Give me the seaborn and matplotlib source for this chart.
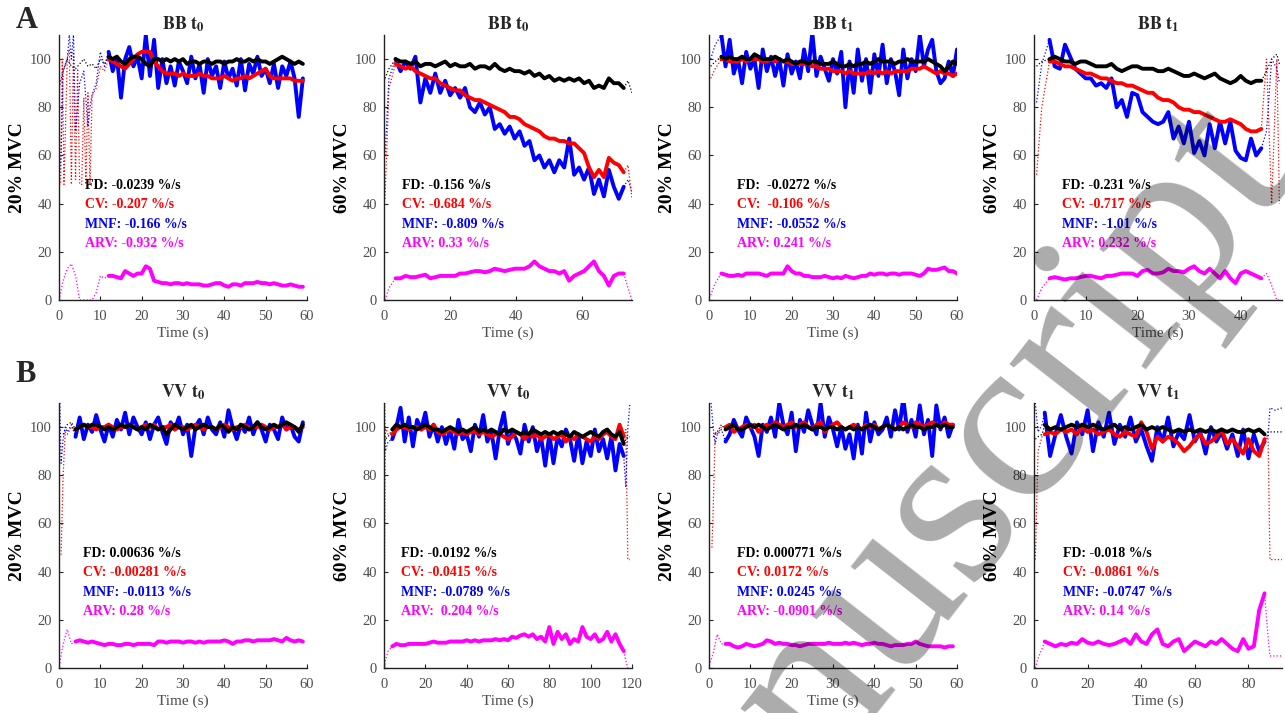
import numpy as np
import matplotlib
matplotlib.use("Agg")
import matplotlib.pyplot as plt
import seaborn as sns

# ---------------- data ----------------
# Panel 1: BB t0, 20% MVC
p1_t = np.arange(12, 60, 1.0)
p1_fd = [101,100,101,99,98,100,101,101,100,98,97,100,100,99,100,99,100,99,100,98,99,99,98,99,99,98,99,99,98,99,99,100,99,99,100,99,100,99,99,98,99,100,101,100,99,98,99,98]
p1_cv = [100,99,98,97,96,98,100,102,103,103,103,99,97,95,94,94,94,93,94,93,93,93,94,93,93,92,92,92,93,92,91,92,92,93,92,93,94,95,96,93,92,92,92,92,92,91,91,91]
p1_mnf = [103,95,101,84,100,105,97,101,92,110,93,108,88,100,90,97,89,99,95,90,101,92,98,86,100,93,97,88,99,92,96,89,100,87,98,94,101,93,96,90,98,88,97,93,99,92,76,92]
p1_arv = [10,10,9.5,9,12,11,10,11,11,14,13,8,7.5,7,7,6.5,7,7,6.5,7,6.5,6.5,6.5,6,6,6.5,7,7,6,5.5,6.5,6.5,6,7,7,7,7.5,7,7,6.5,7,6.5,6,6,6.5,6,5.5,5.5]
p1_dot_cv_t = [0,0.4,0.8,1.2,2,2.5,3,3.5,4,4.5,5,5.5,6,6.5,7,7.5,8,9,10,11,12]
p1_dot_cv = [48,48,100,48,100,104,48,103,50,96,48,48,84,48,86,48,85,88,97,95,100]
p1_dot_mnf_t = [0,0.5,1,2,2.5,3,3.5,4,5,6,7,7.5,8,9,10,11,12]
p1_dot_mnf = [50,60,95,100,110,100,110,70,90,95,72,80,85,90,103,97,103]
p1_dot_fd_t = [0,1,2,3,4,5,6,7,8,9,10,11,12]
p1_dot_fd = [88,95,100,97,96,98,100,97,98,96,100,98,101]
p1_dot_arv_t = [0,1,2,3,4,5,6,7,8,9,10,11,12]
p1_dot_arv = [0,8,13,15,10,0,0,0,0,3,10,9,10]

# Panel 2: BB t0, 60% MVC
p2_t = np.arange(3.5, 73, 1.5)
p2_fd = [100,99,99,98,99,97,98,98,97,98,99,97,98,97,97,98,96,97,97,96,98,96,95,96,95,95,94,95,93,94,92,93,91,92,91,92,91,92,90,91,88,89,88,92,90,90,88]
p2_cv = [98,97,96,97,95,94,93,92,92,90,89,88,87,87,85,84,83,83,82,81,80,79,78,76,76,75,73,72,71,70,68,67,67,66,66,65,65,63,61,55,51,54,51,59,57,56,53]
p2_mnf = [100,95,99,96,101,82,92,86,94,86,91,85,88,84,88,80,78,82,77,80,71,73,69,72,67,70,64,66,58,60,55,58,53,58,55,67,52,55,50,55,44,50,43,54,47,42,47]
p2_arv = [9,9,10,9.5,9.5,10,10.5,9,9.5,10,10,10,10,11,11,11.5,12,12,11.5,12,13,12.5,12,12.5,13,13,13,14,16,14,13,12,12,11,12,8,10,11,12,14,16,12,10,6,10,11,11]
p2_dot_start_t = [0.3, 1.5, 3.5]
p2_dot_start_fd = [92, 96, 100]
p2_dot_start_cv = [42, 88, 98]
p2_dot_start_mnf = [60, 92, 100]
p2_dot_start_arv = [0, 5, 9]
p2_dot_end_t = [72.5, 73.8, 75]
p2_dot_end_fd = [88, 91, 86]
p2_dot_end_cv = [53, 56, 42]
p2_dot_end_mnf = [47, 50, 45]
p2_dot_end_arv = [11, 5, 0]

# Panel 3: BB t1, 20% MVC
p3_t = np.arange(3, 61, 1.0)
p3_fd = [101,100,101,100,100,101,100,100,102,101,100,100,100,101,100,99,100,99,98,99,99,98,99,99,98,98,98,99,98,97,97,98,97,98,98,99,98,99,100,99,99,99,98,99,99,100,99,99,99,99,100,99,98,97,95,97,99,98]
p3_cv = [100,100,99,99,99,100,99,100,100,100,99,99,100,99,100,99,99,98,98,98,98,98,97,97,96,96,96,95,95,95,94,95,94,94,94,94,95,94,95,94,95,94,95,95,95,95,96,96,96,97,96,95,94,95,94,94,93,94]
p3_mnf = [110,97,108,94,100,90,103,96,100,88,104,95,101,93,100,89,102,94,99,92,104,95,111,93,101,96,91,100,94,103,80,99,86,104,91,100,86,102,93,106,90,100,95,85,104,92,100,95,110,97,104,108,95,90,92,99,93,104]
p3_arv = [11,10.5,10,10,10.5,10,11,11,11,11,10.5,10,11,11,11,11,14,12,11,11,10,10,9.5,9.5,9.5,10,9.5,9,9.5,9,10,9.5,9,9.5,10,10,11,10.5,11,11,10.5,11,11,10.5,11,11,11,10.5,10,11,13,12.5,12.5,13,13.5,12,12,11]
p3_dot_t = [0.4, 1.5, 3]
p3_dot_fd = [97, 99, 101]
p3_dot_cv = [92, 96, 100]
p3_dot_mnf = [100, 106, 110]
p3_dot_arv = [2, 7, 11]

# Panel 4: BB t1, 60% MVC
p4_t = np.arange(3, 45, 1.0)
p4_fd = [100,101,100,99,99,98,99,99,98,97,97,97,98,96,95,96,97,97,96,96,96,95,95,96,95,94,93,93,94,93,92,93,94,92,91,90,91,93,91,90,91,91]
p4_cv = [99,99,98,97,97,96,95,94,94,93,92,92,91,90,90,89,89,88,87,86,86,84,83,83,82,80,79,79,78,78,77,76,75,74,74,75,74,73,71,70,70,71]
p4_mnf = [108,97,96,106,101,96,94,92,92,89,90,88,92,80,83,76,86,85,78,76,74,73,74,78,67,72,65,74,61,66,60,73,63,74,65,74,62,59,58,67,60,63]
p4_arv = [9,9.5,9,8.5,9,9,9.5,10,10,9.5,9,10,10,10.5,11,11,11,10,12,12.5,11,11,11.5,13,12,12,11.5,13,14,12,11,13,11,9,12,9,7,11,12,11,10,9]
p4_dot_start_t = [0.5, 1.5, 3]
p4_dot_start_fd = [97, 99, 100]
p4_dot_start_cv = [52, 80, 99]
p4_dot_start_mnf = [82, 98, 108]
p4_dot_start_arv = [0, 5, 9]
p4_dot_end_t = [44, 45, 46, 47, 47.5]
p4_dot_end_fd = [91, 95, 100, 102, 98]
p4_dot_end_cv = [71, 100, 40, 100, 40]
p4_dot_end_mnf = [63, 70, 100, 96, 90]
p4_dot_end_arv = [9, 11, 6, 0, 0]

# Panel 5: VV t0, 20% MVC
p5_t = np.arange(4, 60, 1.0)
p5_fd = [99,100,101,100,101,101,100,99,100,99,100,101,100,101,100,99,100,99,101,100,99,100,97,99,101,100,99,100,101,99,100,101,100,100,99,101,100,98,100,99,101,100,99,100,102,100,99,100,101,100,101,102,101,100,98,101]
p5_cv = [99,100,101,100,100,99,100,100,101,100,99,100,100,101,100,99,100,101,100,101,99,100,100,101,99,100,100,99,100,101,100,99,100,100,99,100,101,100,99,100,100,101,99,100,100,101,100,99,100,100,101,99,100,100,99,100]
p5_mnf = [96,104,95,101,98,105,99,94,101,96,103,99,106,97,104,100,97,102,95,101,104,98,93,102,99,104,97,101,88,100,103,97,104,99,97,102,96,107,100,95,101,98,104,97,102,99,94,101,99,95,104,99,101,96,94,102]
p5_arv = [11,11.5,11,10.5,11,10.5,10,9.5,10,10,9.5,9.5,10,10,9.5,10,10,10,10,9.5,11,11,10.5,11,11,11,10.5,11,11,10.5,11,10.5,11,11,11,11,11.5,11,10,11,11,11.5,11.5,11,11.5,11.5,11.5,11.5,12,11.5,11,12.5,11.5,11,11.5,11]
p5_dot_cv_t = [0.5, 1, 1.5, 2, 3, 4]
p5_dot_cv = [47, 80, 98, 97, 100, 99]
p5_dot_mnf_t = [0.2, 0.5, 1, 1.5, 2, 3, 4]
p5_dot_mnf = [110, 85, 95, 100, 98, 101, 96]
p5_dot_fd_t = [1, 2, 3, 4]
p5_dot_fd = [97, 101, 102, 99]
p5_dot_arv_t = [0.2, 1, 2, 3, 4]
p5_dot_arv = [2, 10, 16, 10, 11]

# Panel 6: VV t0, 60% MVC
p6_t = np.arange(4, 117, 2.0)
p6_fd = [99,101,100,101,100,100,99,100,101,100,99,99,98,99,100,99,98,99,98,99,100,98,99,98,99,98,97,99,98,99,98,97,98,97,99,98,97,98,97,98,97,98,97,96,98,97,96,97,98,97,96,98,99,97,96,98,93]
p6_cv = [97,99,100,100,99,100,100,99,100,99,101,98,97,98,99,98,97,98,97,98,98,97,98,97,96,97,97,96,95,96,98,97,95,97,96,97,95,96,97,95,96,97,94,96,95,97,96,95,94,96,95,97,98,96,95,101,96]
p6_mnf = [95,100,108,94,104,92,103,99,106,96,101,94,100,93,99,91,103,95,97,90,101,96,105,94,98,87,99,106,93,98,95,89,101,94,100,90,96,84,97,85,96,92,99,95,86,97,85,94,88,99,90,95,87,96,82,93,88]
p6_arv = [9,10,9.5,9.5,10,10,10,10,10,10.5,11,10.5,10.5,10.5,11,11,11,11,11.5,11,11.5,11,11.5,11.5,11.5,12,11.5,12,11.5,13,12.5,13.5,14,13,14,12,13,11,17,10,15,12,14,10,12,11,17,13,12,14,11,12,15,11,14,10,7]
p6_dot_start_t = [0.3, 0.6, 2, 4]
p6_dot_start_fd = [94, 95, 96, 99]
p6_dot_start_cv = [45, 100, 97, 97]
p6_dot_start_mnf = [110, 90, 94, 95]
p6_dot_start_arv = [0, 3, 7, 9]
p6_dot_end_t = [116, 117, 118, 119]
p6_dot_end_fd = [93, 95, 96, 96]
p6_dot_end_cv = [96, 99, 45, 45]
p6_dot_end_mnf = [88, 75, 100, 110]
p6_dot_end_arv = [7, 3, 0, 0]

# Panel 7: VV t1, 20% MVC
p7_t = np.arange(4, 60, 1.0)
p7_fd = [99,100,101,99,99,100,101,100,101,100,99,100,101,100,99,100,100,101,100,101,100,99,100,100,99,100,100,99,100,99,100,99,100,99,100,101,100,99,100,101,100,99,100,99,100,101,100,100,99,100,100,101,100,101,100,100]
p7_cv = [100,101,98,99,100,101,100,101,98,100,101,100,102,101,100,101,102,100,101,102,100,99,101,102,98,100,101,102,100,99,100,101,100,99,101,100,101,99,100,101,100,99,100,102,101,100,102,101,100,101,102,101,100,102,101,101]
p7_mnf = [94,97,103,99,96,104,100,96,88,101,98,104,96,110,101,97,106,90,103,98,107,101,97,110,96,104,99,92,100,91,97,87,101,89,106,94,102,97,99,104,96,107,99,112,98,103,96,109,97,103,88,109,99,104,96,101]
p7_arv = [10,10,9,8.5,9,10,9.5,9,9.5,10,11.5,11,10,10.5,10,10,9.5,9.5,9,9.5,10,10,10,10,10,10.5,10,10,10,10.5,10,10.5,10,9.5,10,10,10.5,10,10,9.5,9,9.5,9.5,9.5,10,10,11,10,9.5,9,9,9,9,8.5,9,9]
p7_dot_cv_t = [0.7, 1, 1.5, 2, 3, 4]
p7_dot_cv = [50, 65, 98, 97, 100, 100]
p7_dot_mnf_t = [0.5, 1, 1.5, 2, 3, 4]
p7_dot_mnf = [110, 100, 93, 97, 99, 94]
p7_dot_fd_t = [1, 2, 3, 4]
p7_dot_fd = [96, 98, 101, 99]
p7_dot_arv_t = [0, 1, 2, 3, 4]
p7_dot_arv = [1, 6, 14, 10, 10]

# Panel 8: VV t1, 60% MVC
p8_t = np.arange(4, 87, 2.0)
p8_fd = [101,99,100,99,100,101,100,101,100,101,100,99,100,101,99,100,99,100,101,99,100,99,100,99,98,99,98,99,98,99,98,99,98,99,98,99,98,98,99,98,99,97]
p8_cv = [97,98,97,99,98,99,97,100,98,99,97,98,99,97,96,98,97,96,102,98,91,96,94,96,95,93,90,92,95,97,93,94,96,99,93,95,92,89,95,90,88,95]
p8_mnf = [106,88,97,105,96,89,102,97,107,90,102,96,106,93,101,96,104,94,99,92,86,100,94,104,92,98,95,105,94,98,89,100,94,98,91,97,88,99,87,97,90,94]
p8_arv = [11,10,9,10,9.5,10.5,10,12,10.5,10,11,10,9.5,10,11,12,10,14,11,10,14,16,10,9,11,12,7,9,11,10,9,11,10,12,10,8,7,12,8,9,24,31]
p8_dot_start_t = [0.5, 1.5, 3, 4]
p8_dot_start_fd = [95, 96, 97, 101]
p8_dot_start_cv = [45, 90, 96, 97]
p8_dot_start_mnf = [110, 98, 101, 106]
p8_dot_start_arv = [0, 4, 8, 11]
p8_dot_end_t = [86, 87.3, 88, 90, 92.5]
p8_dot_end_fd = [97, 98, 98, 98, 98]
p8_dot_end_cv = [95, 97, 45, 45, 45]
p8_dot_end_mnf = [94, 96, 108, 107, 108]
p8_dot_end_arv = [31, 13, 5, 5, 5]

titles = ["BB", "BB", "BB", "BB", "VV", "VV", "VV", "VV"]
time_labels = ["0", "0", "1", "1", "0", "0", "1", "1"]
ylabels = ["20% MVC", "60% MVC", "20% MVC", "60% MVC", "20% MVC", "60% MVC", "20% MVC", "60% MVC"]
xmaxes = [60, 75, 60, 48, 60, 120, 60, 92.5]
xtick_steps = [10, 20, 10, 10, 10, 20, 10, 20]
rate_fd = ["FD: -0.0239 %/s", "FD: -0.156 %/s", "FD:  -0.0272 %/s", "FD: -0.231 %/s",
           "FD: 0.00636 %/s", "FD: -0.0192 %/s", "FD: 0.000771 %/s", "FD: -0.018 %/s"]
rate_cv = ["CV: -0.207 %/s", "CV: -0.684 %/s", "CV:  -0.106 %/s", "CV: -0.717 %/s",
           "CV: -0.00281 %/s", "CV: -0.0415 %/s", "CV: 0.0172 %/s", "CV: -0.0861 %/s"]
rate_mnf = ["MNF: -0.166 %/s", "MNF: -0.809 %/s", "MNF: -0.0552 %/s", "MNF: -1.01 %/s",
            "MNF: -0.0113 %/s", "MNF: -0.0789 %/s", "MNF: 0.0245 %/s", "MNF: -0.0747 %/s"]
rate_arv = ["ARV: -0.932 %/s", "ARV: 0.33 %/s", "ARV: 0.241 %/s", "ARV: 0.232 %/s",
            "ARV: 0.28 %/s", "ARV:  0.204 %/s", "ARV: -0.0901 %/s", "ARV: 0.14 %/s"]
text_x = [6.3, 5.5, 6.8, 5.4, 5.8, 8.2, 6.8, 10.9]

# ---------------- style ----------------
sns.set_theme(style="ticks")
plt.rcParams["font.family"] = ["Liberation Serif", "DejaVu Serif"]
plt.rcParams["mathtext.fontset"] = "stix"

C_FD, C_CV, C_MNF, C_ARV = "#000000", "#ff0000", "#0000ff", "#ff00ff"
TICK_C = "#4d4d4d"

fig = plt.figure(figsize=(12.85, 7.13), dpi=100)
W, H = 1285, 713
col_left = [59, 384, 709, 1034]
row_top = [35, 403]
aw, ah = 248, 265

main = [
    (p1_t, p1_fd, p1_cv, p1_mnf, p1_arv),
    (p2_t, p2_fd, p2_cv, p2_mnf, p2_arv),
    (p3_t, p3_fd, p3_cv, p3_mnf, p3_arv),
    (p4_t, p4_fd, p4_cv, p4_mnf, p4_arv),
    (p5_t, p5_fd, p5_cv, p5_mnf, p5_arv),
    (p6_t, p6_fd, p6_cv, p6_mnf, p6_arv),
    (p7_t, p7_fd, p7_cv, p7_mnf, p7_arv),
    (p8_t, p8_fd, p8_cv, p8_mnf, p8_arv),
]

dotted = [
    [(p1_dot_fd_t, p1_dot_fd, C_FD), (p1_dot_cv_t, p1_dot_cv, C_CV), (p1_dot_mnf_t, p1_dot_mnf, C_MNF), (p1_dot_arv_t, p1_dot_arv, C_ARV)],
    [(p2_dot_start_t, p2_dot_start_fd, C_FD), (p2_dot_start_t, p2_dot_start_cv, C_CV), (p2_dot_start_t, p2_dot_start_mnf, C_MNF), (p2_dot_start_t, p2_dot_start_arv, C_ARV),
     (p2_dot_end_t, p2_dot_end_fd, C_FD), (p2_dot_end_t, p2_dot_end_cv, C_CV), (p2_dot_end_t, p2_dot_end_mnf, C_MNF), (p2_dot_end_t, p2_dot_end_arv, C_ARV)],
    [(p3_dot_t, p3_dot_fd, C_FD), (p3_dot_t, p3_dot_cv, C_CV), (p3_dot_t, p3_dot_mnf, C_MNF), (p3_dot_t, p3_dot_arv, C_ARV)],
    [(p4_dot_start_t, p4_dot_start_fd, C_FD), (p4_dot_start_t, p4_dot_start_cv, C_CV), (p4_dot_start_t, p4_dot_start_mnf, C_MNF), (p4_dot_start_t, p4_dot_start_arv, C_ARV),
     (p4_dot_end_t, p4_dot_end_fd, C_FD), (p4_dot_end_t, p4_dot_end_cv, C_CV), (p4_dot_end_t, p4_dot_end_mnf, C_MNF), (p4_dot_end_t, p4_dot_end_arv, C_ARV)],
    [(p5_dot_fd_t, p5_dot_fd, C_FD), (p5_dot_cv_t, p5_dot_cv, C_CV), (p5_dot_mnf_t, p5_dot_mnf, C_MNF), (p5_dot_arv_t, p5_dot_arv, C_ARV)],
    [(p6_dot_start_t, p6_dot_start_fd, C_FD), (p6_dot_start_t, p6_dot_start_cv, C_CV), (p6_dot_start_t, p6_dot_start_mnf, C_MNF), (p6_dot_start_t, p6_dot_start_arv, C_ARV),
     (p6_dot_end_t, p6_dot_end_fd, C_FD), (p6_dot_end_t, p6_dot_end_cv, C_CV), (p6_dot_end_t, p6_dot_end_mnf, C_MNF), (p6_dot_end_t, p6_dot_end_arv, C_ARV)],
    [(p7_dot_fd_t, p7_dot_fd, C_FD), (p7_dot_cv_t, p7_dot_cv, C_CV), (p7_dot_mnf_t, p7_dot_mnf, C_MNF), (p7_dot_arv_t, p7_dot_arv, C_ARV)],
    [(p8_dot_start_t, p8_dot_start_fd, C_FD), (p8_dot_start_t, p8_dot_start_cv, C_CV), (p8_dot_start_t, p8_dot_start_mnf, C_MNF), (p8_dot_start_t, p8_dot_start_arv, C_ARV),
     (p8_dot_end_t, p8_dot_end_fd, C_FD), (p8_dot_end_t, p8_dot_end_cv, C_CV), (p8_dot_end_t, p8_dot_end_mnf, C_MNF), (p8_dot_end_t, p8_dot_end_arv, C_ARV)],
]

LW = 2.8
for i in range(8):
    r, c = divmod(i, 4)
    left = col_left[c] / W
    bottom = (H - row_top[r] - ah) / H
    ax = fig.add_axes([left, bottom, aw / W, ah / H])
    t, fd, cv, mnf, arv = main[i]
    for (dt, dv, dc) in dotted[i]:
        sns.lineplot(x=dt, y=dv, ax=ax, color=dc, linewidth=0.9, linestyle=":",
                     estimator=None, sort=False)
    sns.lineplot(x=t, y=mnf, ax=ax, color=C_MNF, linewidth=LW, estimator=None, sort=False)
    sns.lineplot(x=t, y=cv, ax=ax, color=C_CV, linewidth=LW, estimator=None, sort=False)
    sns.lineplot(x=t, y=fd, ax=ax, color=C_FD, linewidth=LW, estimator=None, sort=False)
    sns.lineplot(x=t, y=arv, ax=ax, color=C_ARV, linewidth=LW, estimator=None, sort=False)

    ax.set_xlim(0, xmaxes[i])
    ax.set_ylim(0, 110)
    ax.set_yticks(np.arange(0, 101, 20))
    ax.set_xticks(np.arange(0, xmaxes[i] + 0.01, xtick_steps[i]))
    sns.despine(ax=ax)
    ax.tick_params(direction="in", length=3, width=0.8, labelsize=10.5, labelcolor=TICK_C,
                   color="#222222")
    ax.tick_params(axis="x", pad=7)
    ax.tick_params(axis="y", pad=5)
    for s in ("left", "bottom"):
        ax.spines[s].set_color("#222222")
        ax.spines[s].set_linewidth(1.0)
    ax.set_xlabel("Time (s)", fontsize=11, color=TICK_C, labelpad=3)
    ax.set_ylabel(ylabels[i], fontsize=14, fontweight="bold", color="black", labelpad=3)
    ax.set_title(r"$\mathbf{%s\ t_%s}$" % (titles[i], time_labels[i]), fontsize=13, pad=4)

    tx = text_x[i]
    for yv, txt, col in ((47.5, rate_fd[i], C_FD), (39.5, rate_cv[i], C_CV),
                         (31.5, rate_mnf[i], C_MNF), (23.5, rate_arv[i], C_ARV)):
        ax.text(tx, yv, txt, color=col, fontsize=10, fontweight="bold", va="center", ha="left")

fig.text(27 / W, 1 - 20 / H, "A", fontsize=22, fontweight="bold", ha="center", va="center")
fig.text(26 / W, 1 - 375 / H, "B", fontsize=22, fontweight="bold", ha="center", va="center")

# watermark
fig.text(626 / W, 1 - 1026 / H, "Manuscript", fontsize=172, color="black", alpha=0.33,
         rotation=52, rotation_mode="anchor", ha="left", va="baseline", zorder=100)

fig.savefig("out.png", dpi=100)
